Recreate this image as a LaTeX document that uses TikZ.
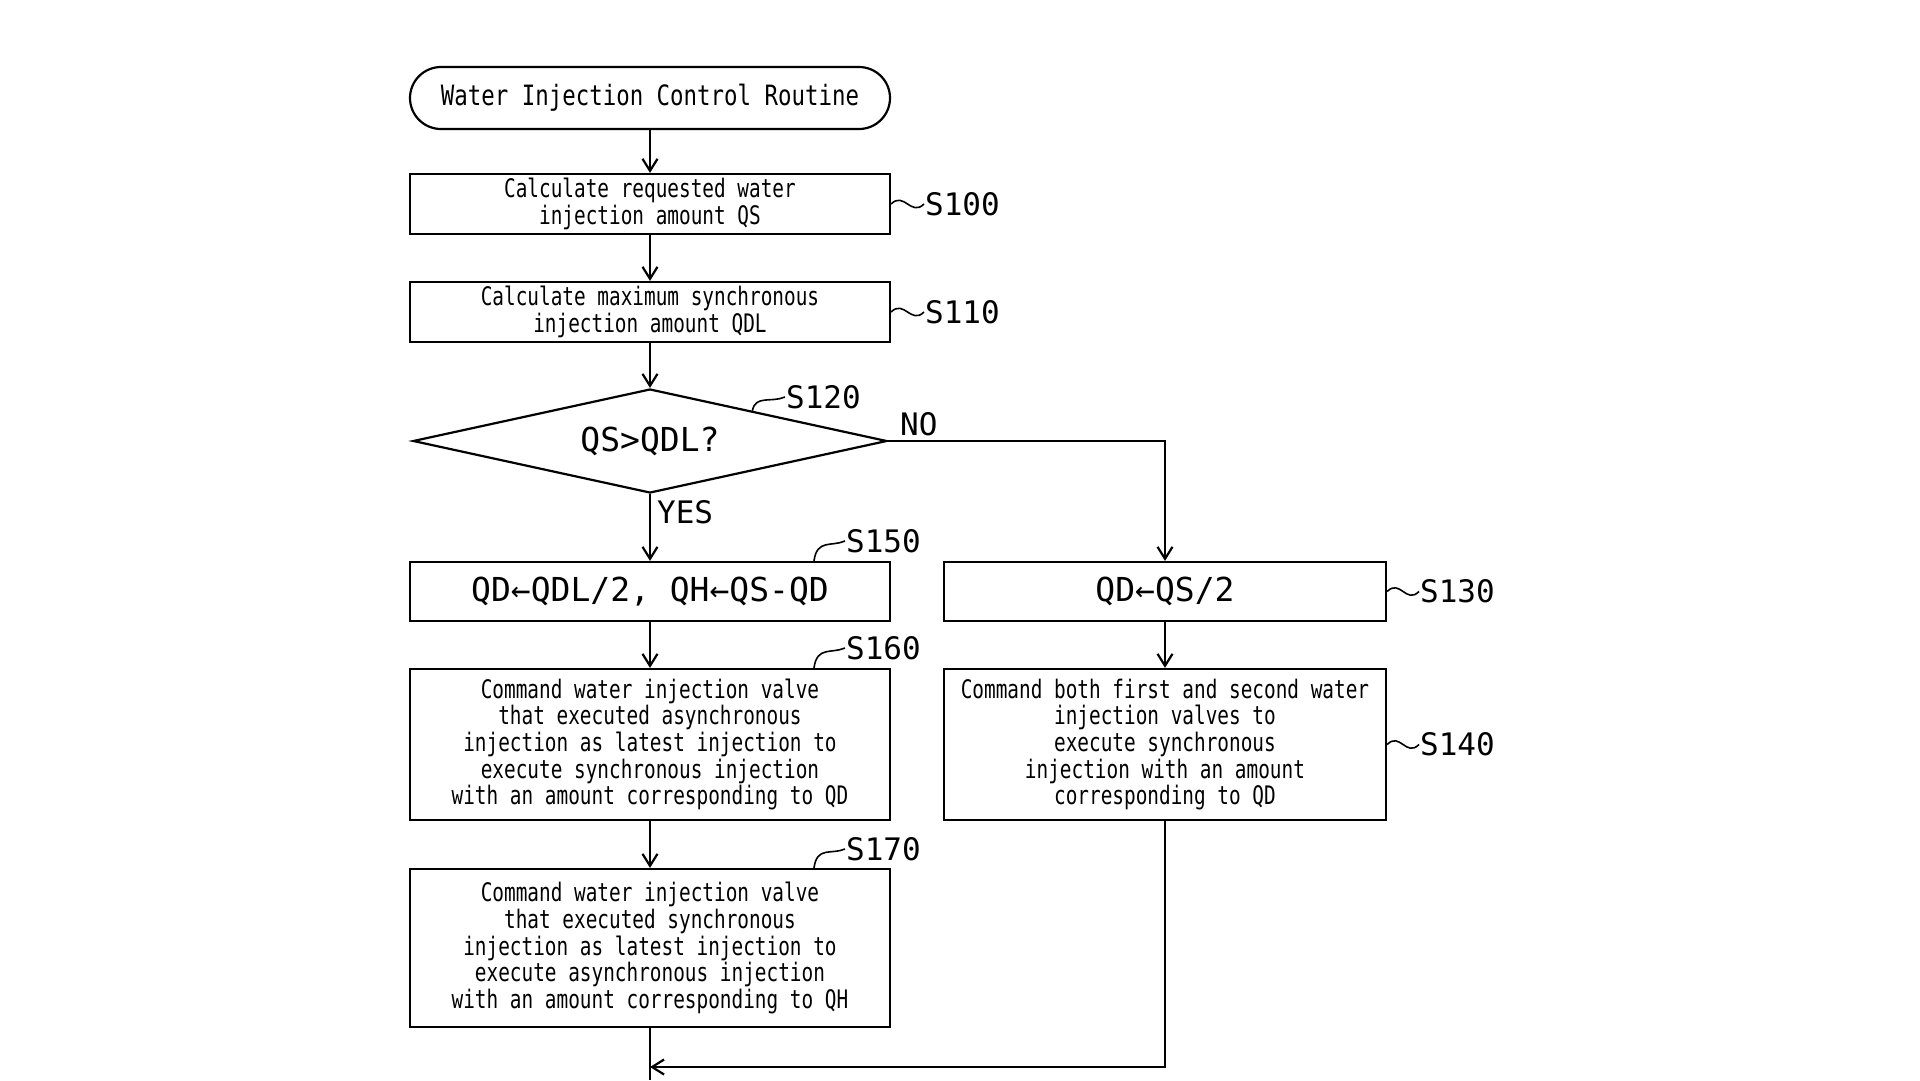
\documentclass[tikz,border=0pt]{standalone}
\usepackage{fontspec}
\usetikzlibrary{arrows.meta,calc,shapes.geometric}
\newfontfamily\fnarrow[FakeStretch=0.76]{DejaVu Sans Mono}
\newfontfamily\ftitle[FakeStretch=0.8]{DejaVu Sans Mono}
\newfontfamily\fmono{DejaVu Sans Mono}
\begin{document}
\begin{tikzpicture}[x=1pt,y=-1pt,line width=2.2pt,
  box/.style={draw,rectangle,inner sep=0pt,align=center,
    font=\fnarrow\fontsize{25.5}{26.6}\selectfont},
  bigbox/.style={draw,rectangle,inner sep=0pt,align=center,
    font=\fmono\fontsize{33}{36}\selectfont},
  lbl/.style={inner sep=0pt,font=\fmono\fontsize{31}{31}\selectfont},
  arr/.style={-{Straight Barb[length=12pt,width=15pt]}},
  lead/.style={line width=1.6pt}]
\useasboundingbox (0,0) rectangle (1920,1080);
% nodes
\node[draw,rectangle,rounded corners=31pt,minimum width=480pt,minimum height=62pt,inner sep=0pt,
  font=\ftitle\fontsize{28}{30}\selectfont] (term) at (650,98) {Water Injection Control Routine};
\node[box,minimum width=480pt,minimum height=60pt] (s100) at (650,204)
  {Calculate requested water\\injection amount QS};
\node[box,minimum width=480pt,minimum height=60pt] (s110) at (650,312)
  {Calculate maximum synchronous\\injection amount QDL};
\node[draw,diamond,aspect=4.56,minimum width=474pt,minimum height=104pt,inner sep=0pt,
  font=\fmono\fontsize{33}{36}\selectfont] (dia) at (650,441) {QS>QDL?};
\node[bigbox,minimum width=480pt,minimum height=59pt] (s150) at (650,591.5)
  {QD←QDL/2, QH←QS-QD};
\node[bigbox,minimum width=442pt,minimum height=59pt] (s130) at (1165,591.5)
  {QD←QS/2};
\node[box,minimum width=480pt,minimum height=151pt] (s160) at (650,744.5)
  {Command water injection valve\\that executed asynchronous\\injection as latest injection to\\execute synchronous injection\\with an amount corresponding to QD};
\node[box,minimum width=442pt,minimum height=151pt] (s140) at (1165,744.5)
  {Command both first and second water\\injection valves to\\execute synchronous\\injection with an amount\\corresponding to QD};
\node[box,minimum width=480pt,minimum height=158pt] (s170) at (650,948)
  {Command water injection valve\\that executed synchronous\\injection as latest injection to\\execute asynchronous injection\\with an amount corresponding to QH};
\coordinate (merge) at (650,1067);
\coordinate (bot) at (650,1080);
% step labels
\node[lbl,anchor=west] (l100) at (924,204) {S100};
\node[lbl,anchor=west] (l110) at (924,312) {S110};
\node[lbl,anchor=west] (l120) at (785,397) {S120};
\node[lbl,anchor=west] (l150) at (845,541) {S150};
\node[lbl,anchor=west] (l130) at (1419,591.5) {S130};
\node[lbl,anchor=west] (l160) at (845,648) {S160};
\node[lbl,anchor=west] (l140) at (1419,744.5) {S140};
\node[lbl,anchor=west] (l170) at (845,849) {S170};
\node[lbl,anchor=west] (yes) at (656,512) {YES};
\node[lbl,anchor=west] (no) at (899,424) {NO};
% connectors
\draw[arr] (term) -- (s100);
\draw[arr] (s100) -- (s110);
\draw[arr] (s110) -- (dia);
\draw[arr] (dia.south) -- (s150.north);
\draw[arr] (dia.east) -| (s130.north);
\draw[arr] (s150) -- (s160);
\draw[arr] (s160) -- (s170);
\draw[arr] (s130) -- (s140);
\draw (s170.south) -- (bot);
\draw[arr] (s140.south) |- (merge);
% leaders
\draw[lead] (s100.east) .. controls +(13,-13) and +(-13,13) .. (l100.west);
\draw[lead] (s110.east) .. controls +(13,-13) and +(-13,13) .. (l110.west);
\draw[lead] (s130.east) .. controls +(13,-13) and +(-13,13) .. (l130.west);
\draw[lead] (s140.east) .. controls +(13,-13) and +(-13,13) .. (l140.west);
\draw[lead] ($(dia.north)!0.43!(dia.east)$) .. controls +(3,-16) and +(-14,6) .. (l120.west);
\draw[lead] ($(s150.north)+(164,0)$) .. controls +(3,-22) and +(-14,6) .. (l150.west);
\draw[lead] ($(s160.north)+(164,0)$) .. controls +(3,-22) and +(-14,6) .. (l160.west);
\draw[lead] ($(s170.north)+(164,0)$) .. controls +(3,-22) and +(-14,6) .. (l170.west);
\end{tikzpicture}
\end{document}
